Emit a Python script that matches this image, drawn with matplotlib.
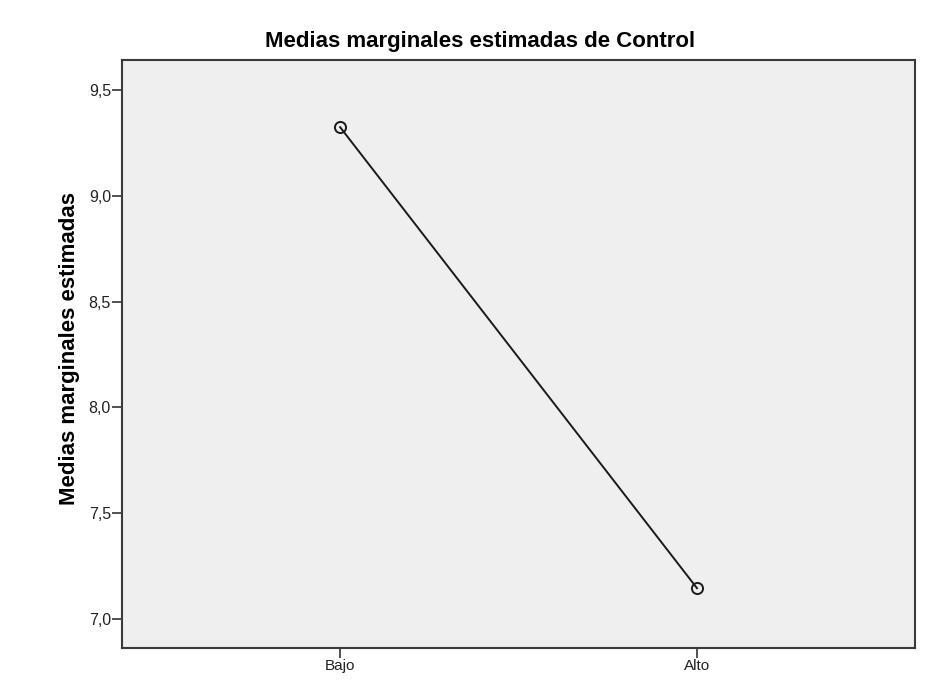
import matplotlib
matplotlib.use("Agg")
import matplotlib.pyplot as plt

plt.rcParams["font.family"] = ["Liberation Sans", "DejaVu Sans"]

# ── data ──────────────────────────────────────────────────────────────────────
categories = ["Bajo", "Alto"]
means      = [9.324, 7.146]
yticks     = [7.0, 7.5, 8.0, 8.5, 9.0, 9.5]
ytick_lbls = ["7,0", "7,5", "8,0", "8,5", "9,0", "9,5"]

# ── plot ──────────────────────────────────────────────────────────────────────
fig = plt.figure(figsize=(9.39, 6.88), dpi=100)
ax = fig.add_axes([0.130, 0.058, 0.8445, 0.855])
ax.set_facecolor("#efefef")

x = list(range(len(categories)))
ax.plot(x, means, color="#1a1a1a", linewidth=1.4, marker="o", markersize=8,
        markerfacecolor="none", markeredgecolor="#1a1a1a", markeredgewidth=1.4)

ax.set_xlim(-0.611, 1.611)
ax.set_ylim(6.863, 9.642)
ax.set_xticks(x)
ax.set_xticklabels(categories, fontsize=11)
ax.set_yticks(yticks)
ax.set_yticklabels(ytick_lbls, fontsize=11.5)
ax.tick_params(direction="out", length=7, width=1.2, color="#333333", pad=1,
               labelcolor="#222222")

for s in ax.spines.values():
    s.set_color("#3a3a3a")
    s.set_linewidth(1.5)

ax.set_title("Medias marginales estimadas de Control", fontsize=16,
             fontweight="bold", pad=9, x=0.451)
ax.set_ylabel("Medias marginales estimadas", fontsize=16, fontweight="bold")
ax.yaxis.set_label_coords(-0.053, 0.51)

fig.savefig("out.png", dpi=100)
